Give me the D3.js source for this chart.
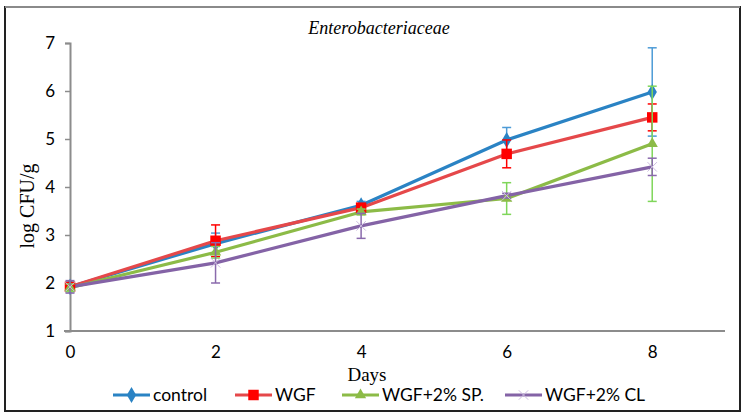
<!DOCTYPE html>
<html lang="en">
  <head>
    <meta charset="UTF-8" />
    <title>Enterobacteriaceae</title>
    <script src="https://d3js.org/d3.v7.min.js"></script>
    <style>
      html,
      body {
        margin: 0;
        background: #fff;
      }
      svg {
        display: block;
      }
      .tick text {
        font-family: Lato, "Open Sans", sans-serif;
        font-size: 17px;
        fill: #000;
      }
      .serif {
        font-family: "Liberation Serif", "DejaVu Serif", serif;
      }
    </style>
  </head>
  <body>
    <svg id="chart" width="746" height="416"></svg>
    <script>
      // data
      const days = [0, 2, 4, 6, 8];
      const seriesNames = ["control", "WGF", "WGF+2% SP.", "WGF+2% CL"];
      const controlVals = [1.92, 2.82, 3.62, 4.98, 5.98];
      const controlErr = [0.1, 0.22, 0.08, 0.26, 0.92];
      const wgfVals = [1.92, 2.88, 3.57, 4.69, 5.45];
      const wgfErr = [0.08, 0.33, 0.08, 0.29, 0.28];
      const spVals = [1.9, 2.64, 3.48, 3.76, 4.9];
      const spErr = [0.08, 0.12, 0.06, 0.33, 1.2];
      const clVals = [1.92, 2.42, 3.19, 3.82, 4.42];
      const clErr = [0.13, 0.42, 0.26, 0.05, 0.18];
      const yTicks = [1, 2, 3, 4, 5, 6, 7];
      const xTicks = [0, 2, 4, 6, 8];

      const series = [
        { name: seriesNames[0], vals: controlVals, err: controlErr, line: "#2a83c4", mark: "#2a83c4", errColor: "#4d9bd6", shape: "diamond" },
        { name: seriesNames[1], vals: wgfVals, err: wgfErr, line: "#e5484a", mark: "#ff0000", errColor: "#ff0000", shape: "square" },
        { name: seriesNames[2], vals: spVals, err: spErr, line: "#8cbb47", mark: "#8cbb47", errColor: "#7fd65a", shape: "triangle" },
        { name: seriesNames[3], vals: clVals, err: clErr, line: "#8463a6", mark: "#cdbde0", errColor: "#8a6aac", shape: "x" },
      ];

      const svg = d3.select("#chart");

      // outer frame
      svg.append("rect")
        .attr("x", 5).attr("y", 7).attr("width", 735).attr("height", 404)
        .attr("fill", "none").attr("stroke", "#222").attr("stroke-width", 2);
      svg.append("line")
        .attr("x1", 5).attr("x2", 740).attr("y1", 7).attr("y2", 7)
        .attr("stroke", "#8a8a8a").attr("stroke-width", 2);

      const x = d3.scaleLinear().domain([0, 9]).range([70, 725]);
      const y = d3.scaleLinear().domain([1, 7]).range([331, 43]);

      // axes
      const yAxis = svg.append("g")
        .attr("transform", `translate(${x(0)},0)`)
        .call(d3.axisLeft(y).tickValues(yTicks).tickSize(5).tickPadding(10).tickFormat(d3.format("d")));
      const xAxis = svg.append("g")
        .attr("transform", `translate(0,${y(1)})`)
        .call(d3.axisBottom(x).tickValues(xTicks).tickSize(0).tickPadding(15).tickFormat(d3.format("d")));
      [yAxis, xAxis].forEach((g) => {
        g.select(".domain").attr("stroke", "#8c8c8c").attr("stroke-width", 2);
        g.selectAll(".tick line").attr("stroke", "#8c8c8c").attr("stroke-width", 1.5);
      });
      // x axis line starts a little left of the y axis
      xAxis.select(".domain").attr("d", `M${x(0) - 6},0H${x(9)}`);

      // titles
      svg.append("text")
        .attr("class", "serif")
        .attr("x", 379).attr("y", 34)
        .attr("text-anchor", "middle")
        .attr("font-style", "italic")
        .attr("font-size", 18)
        .text("Enterobacteriaceae");
      svg.append("text")
        .attr("class", "serif")
        .attr("x", 367).attr("y", 381)
        .attr("text-anchor", "middle")
        .attr("font-size", 19)
        .text("Days");
      svg.append("text")
        .attr("class", "serif")
        .attr("transform", `translate(34,206) rotate(-90)`)
        .attr("text-anchor", "middle")
        .attr("font-size", 20)
        .text("log CFU/g");

      const lineGen = d3.line().x((d) => x(d[0])).y((d) => y(d[1]));

      function drawMarker(g, shape, cx, cy, color) {
        if (shape === "diamond") {
          g.append("path").attr("d", d3.symbol(d3.symbolDiamond, 75)())
            .attr("transform", `translate(${cx},${cy})`).attr("fill", color);
        } else if (shape === "square") {
          g.append("path").attr("d", d3.symbol(d3.symbolSquare, 110)())
            .attr("transform", `translate(${cx},${cy})`).attr("fill", color);
        } else if (shape === "triangle") {
          g.append("path").attr("d", d3.symbol(d3.symbolTriangle, 55)())
            .attr("transform", `translate(${cx},${cy})`).attr("fill", color);
        } else {
          g.append("path").attr("d", d3.symbol(d3.symbolX, 60)())
            .attr("transform", `translate(${cx},${cy})`)
            .attr("fill", "none").attr("stroke", color).attr("stroke-width", 1);
        }
      }

      const plot = svg.append("g");

      // lines
      series.forEach((s) => {
        plot.append("path")
          .datum(days.map((d, i) => [d, s.vals[i]]))
          .attr("d", lineGen)
          .attr("fill", "none")
          .attr("stroke", s.line)
          .attr("stroke-width", 3.2)
          .attr("stroke-linejoin", "round");
      });

      // error bars and markers
      series.forEach((s) => {
        const g = plot.append("g");
        days.forEach((d, i) => {
          const cx = x(d);
          const top = y(s.vals[i] + s.err[i]);
          const bot = y(s.vals[i] - s.err[i]);
          g.append("line").attr("x1", cx).attr("x2", cx).attr("y1", top).attr("y2", bot)
            .attr("stroke", s.errColor).attr("stroke-width", 1.5);
          [top, bot].forEach((yy) => {
            g.append("line").attr("x1", cx - 4.5).attr("x2", cx + 4.5).attr("y1", yy).attr("y2", yy)
              .attr("stroke", s.errColor).attr("stroke-width", 1.5);
          });
          drawMarker(g, s.shape, cx, y(s.vals[i]), s.mark);
        });
      });

      // legend
      const legendX = [113, 235, 342, 505];
      const legend = svg.append("g").attr("transform", "translate(0,395)");
      series.forEach((s, i) => {
        const lg = legend.append("g").attr("transform", `translate(${legendX[i]},0)`);
        lg.append("line").attr("x1", 0).attr("x2", 37).attr("y1", 0).attr("y2", 0)
          .attr("stroke", s.line).attr("stroke-width", 3.2);
        drawMarker(lg, s.shape, 18.5, 0, s.mark);
        lg.append("text")
          .attr("x", 40).attr("y", 6)
          .attr("font-family", "Lato, 'Open Sans', sans-serif")
          .attr("font-size", 17.5)
          .text(s.name);
      });
    </script>
  </body>
</html>
